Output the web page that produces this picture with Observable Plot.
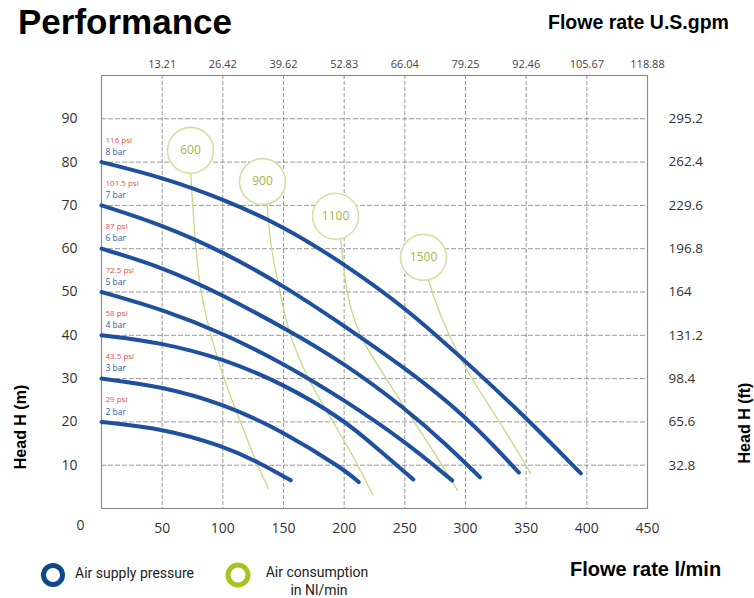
<!DOCTYPE html>
<html>
<head>
<meta charset="utf-8">
<script src="https://cdn.jsdelivr.net/npm/d3@7"></script>
<script src="https://cdn.jsdelivr.net/npm/@observablehq/plot@0.6"></script>
<style>
  html, body { margin: 0; padding: 0; background: #fff; }
  #wrap { position: relative; width: 754px; height: 598px; overflow: hidden; }
  #wrap > svg { position: absolute; left: 0; top: 0; }
  #overlay { pointer-events: none; }
</style>
</head>
<body>
<div id="wrap"></div>
<script>
// ---- data ----
const flowTicks = [0, 50, 100, 150, 200, 250, 300, 350, 400, 450];          // l/min
const gpmTicks  = [50, 100, 150, 200, 250, 300, 350, 400, 450];             // positions (l/min)
const gpmLabels = ["13.21", "26.42", "39.62", "52.83", "66.04", "79.25", "92.46", "105.67", "118.88"];
const headTicks = [10, 20, 30, 40, 50, 60, 70, 80, 90];                      // m
const ftLabels  = ["32.8", "65.6", "98.4", "131.2", "164", "196.8", "229.6", "262.4", "295.2"];

const barLabels = ["2 bar", "3 bar", "4 bar", "5 bar", "6 bar", "7 bar", "8 bar"];
const psiLabels = ["29 psi", "43.5 psi", "58 psi", "72.5 psi", "87 psi", "101.5 psi", "116 psi"];

// pressure curves: [flow l/min, head m]
const curve2bar = [[0,20],[50,18.5],[100,14.5],[130,10.6],[156,6.5]];
const curve3bar = [[0,30],[50,28.2],[100,24.2],[150,17.8],[200,9],[212,6.1]];
const curve4bar = [[0,40],[50,38.3],[100,34.6],[150,28.8],[200,20.5],[230,13.2],[257,6.7]];
const curve5bar = [[0,50],[50,46],[100,40.5],[150,33.5],[200,25.1],[250,15.5],[289,6.5]];
const curve6bar = [[0,60],[50,55.8],[100,49.3],[150,41.8],[200,33.6],[250,23.2],[285,14.6],[312,7.2]];
const curve7bar = [[0,70],[50,65.5],[100,59.3],[150,51.5],[200,42.2],[250,32.5],[300,21.5],[344,8.3]];
const curve8bar = [[0,80],[50,76.5],[100,71.5],[150,65.2],[200,56.5],[250,46.5],[300,34],[350,21],[395,8.1]];

// air consumption lines (Nl/min)
const airLabels = ["600", "900", "1100", "1500"];
const airBubbleFlow = [73.4, 132.7, 192.9, 265.4];
const airBubbleHead = [82.7, 75.5, 67.5, 58];
const air600  = [[73.4,77.6],[77.5,60],[81.6,49.9],[89.8,40],[100.6,30],[114.6,19.9],[128.6,9.9],[137.6,4.6]];
const air900  = [[136.6,70],[139.3,60],[147.5,49.9],[153.3,41.1],[169.5,30],[191.2,19.9],[211.8,9.9],[223.4,3.2]];
const air1100 = [[197,62.4],[200,54],[205,46],[213,40],[222,35.5],[246,25],[270,14.8],[293.4,4.2]];
const air1500 = [[269.5,52.7],[280.2,43.4],[304.1,30],[328.9,19.9],[353.6,8.1]];

// ---- tables ----
const pressureCurves = [curve2bar, curve3bar, curve4bar, curve5bar, curve6bar, curve7bar, curve8bar];
const curveRows = pressureCurves.flatMap((pts, i) => pts.map(([q, h]) => ({bar: barLabels[i], q, h})));
const startRows = pressureCurves.map((pts, i) => ({q: pts[0][0], h: pts[0][1], bar: barLabels[i], psi: psiLabels[i]}));
const airLines = [air600, air900, air1100, air1500];
const airRows = airLines.flatMap((pts, i) => pts.map(([q, h]) => ({air: airLabels[i], q, h})));
const bubbleRows = airLabels.map((l, i) => ({label: l, q: airBubbleFlow[i], h: airBubbleHead[i]}));
const topRows = gpmTicks.map((q, i) => ({q, label: gpmLabels[i]}));

const tickFont = "'Open Sans', sans-serif";

const chart = Plot.plot({
  width: 754,
  height: 598,
  marginLeft: 101,
  marginRight: 107,
  marginTop: 75,
  marginBottom: 90,
  x: {domain: [0, 450], label: null},
  y: {domain: [0, 100], label: null},
  style: {background: "white", fontFamily: tickFont, overflow: "visible"},
  marks: [
    Plot.gridX(flowTicks.slice(1, -1), {stroke: "#777", strokeOpacity: 0.75, strokeDasharray: "4,2"}),
    Plot.gridY(headTicks, {stroke: "#777", strokeOpacity: 0.75, strokeDasharray: "5,2"}),
    Plot.frame({stroke: "#8c8c8c", strokeWidth: 1.2}),
    Plot.axisX(flowTicks.slice(1), {anchor: "bottom", tickSize: 0, tickPadding: 15, fontSize: 14, fill: "#333", label: null}),
    Plot.text([flowTicks[0]], {x: d => d, frameAnchor: "bottom", dy: 21, dx: -21, fontSize: 14, fill: "#333"}),
    Plot.axisY(headTicks, {anchor: "left", tickSize: 0, tickPadding: 24, fontSize: 14, fill: "#333", label: null}),
    Plot.axisY(headTicks, {anchor: "right", tickSize: 0, tickPadding: 21, fontSize: 13.5, fill: "#333", label: null,
      tickFormat: d => ftLabels[headTicks.indexOf(d)]}),
    Plot.text(topRows, {x: "q", text: "label", frameAnchor: "top", dy: -15, fontSize: 11, fill: "#444"}),
    // air consumption lines
    Plot.line(airRows, {x: "q", y: "h", z: "air", stroke: "#c9d886", strokeWidth: 1.3, curve: "basis"}),
    // pressure curves
    Plot.line(curveRows, {x: "q", y: "h", z: "bar", stroke: "#1f4f9f", strokeWidth: 4, curve: "basis", strokeLinecap: "round"}),
    // bubbles
    Plot.dot(bubbleRows, {x: "q", y: "h", r: 23, fill: "white", stroke: "#d3e0a4", strokeWidth: 1.6}),
    Plot.text(bubbleRows, {x: "q", y: "h", text: "label", fill: "#a2b83e", fontSize: 12}),
    // curve labels
    Plot.text(startRows, {x: "q", y: "h", text: "psi", dx: 4, dy: -22, textAnchor: "start", fill: "#d9534f", fontSize: 8}),
    Plot.text(startRows, {x: "q", y: "h", text: "bar", dx: 4, dy: -10, textAnchor: "start", fill: "#2e5ba3", fontSize: 8.5})
  ]
});

const wrap = document.getElementById("wrap");
wrap.appendChild(chart);

// overlay: titles, axis names, legend
const ns = "http://www.w3.org/2000/svg";
const ov = document.createElementNS(ns, "svg");
ov.setAttribute("id", "overlay");
ov.setAttribute("width", 754);
ov.setAttribute("height", 598);
ov.innerHTML = `
  <g font-family="'Liberation Sans', Arial, sans-serif" font-weight="bold" fill="#000">
    <text x="18" y="34" font-size="35">Performance</text>
    <text x="548" y="29" font-size="19.5">Flowe rate U.S.gpm</text>
    <text x="570" y="576" font-size="20">Flowe rate l/min</text>
    <text transform="translate(26,427) rotate(-90)" text-anchor="middle" font-size="16">Head H (m)</text>
    <text transform="translate(750,423) rotate(-90)" text-anchor="middle" font-size="16">Head H (ft)</text>
  </g>
  <g font-family="Roboto, 'Liberation Sans', sans-serif" font-size="14" fill="#222">
    <circle cx="53" cy="575" r="9.5" fill="none" stroke="#0d4a8c" stroke-width="5"/>
    <text x="75" y="578">Air supply pressure</text>
    <circle cx="238" cy="575" r="10" fill="none" stroke="#a9c220" stroke-width="5"/>
    <text x="317" y="577" text-anchor="middle">Air consumption</text>
    <text x="319" y="595" text-anchor="middle">in Nl/min</text>
  </g>`;
wrap.appendChild(ov);
</script>
</body>
</html>
